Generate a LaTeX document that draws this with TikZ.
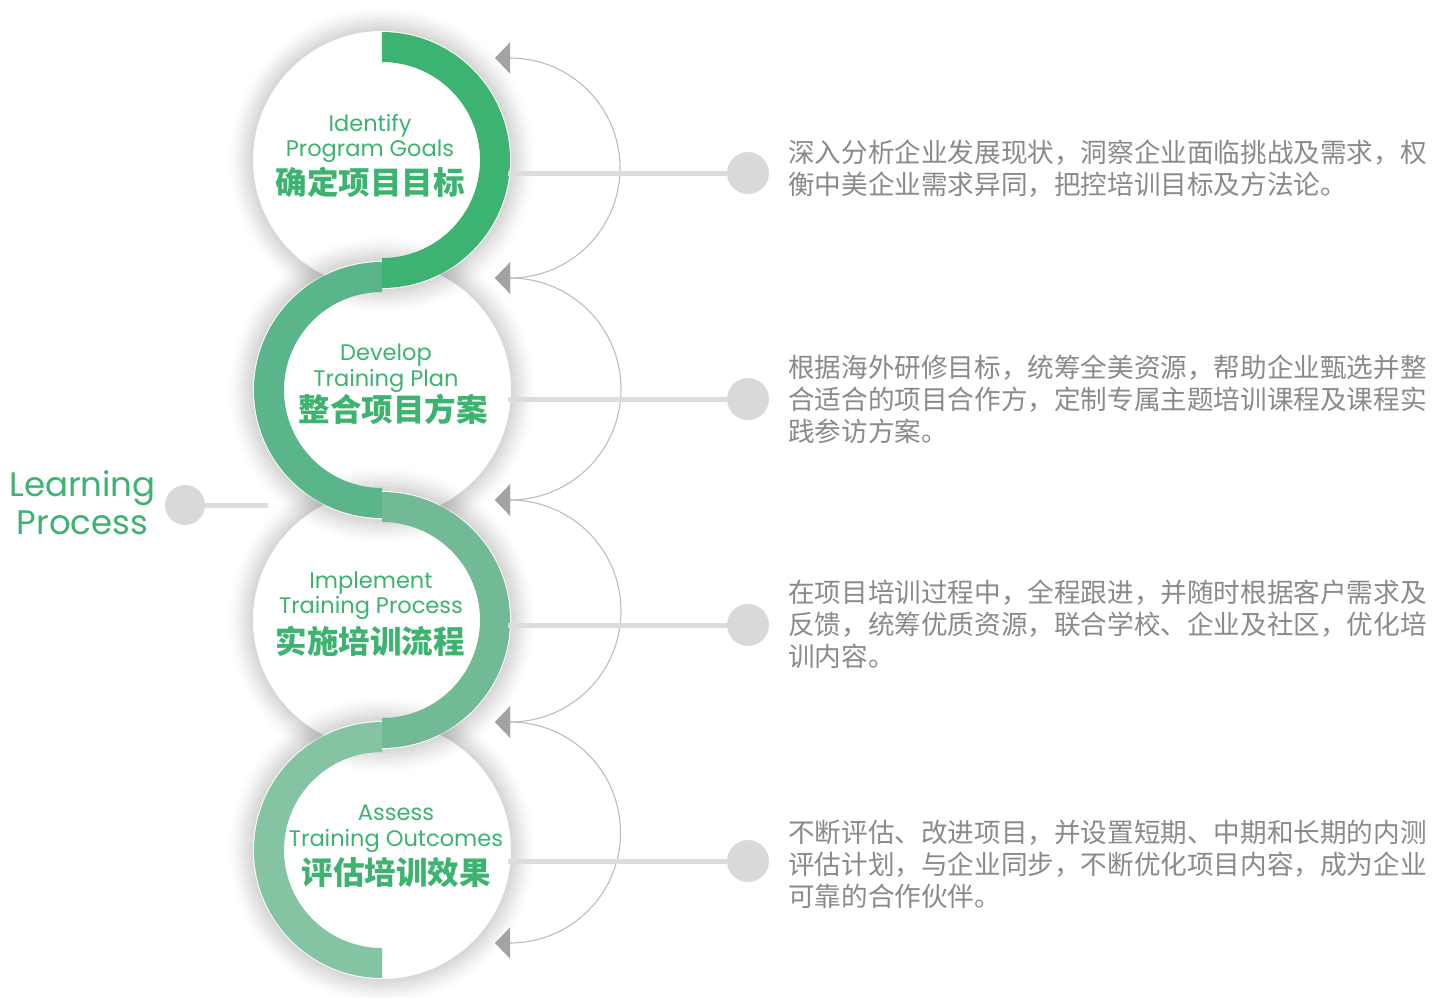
\documentclass[tikz,border=0pt]{standalone}
\usepackage{fontspec}
\setmainfont{Poppins}
\newfontfamily\cjk{Noto Sans CJK SC}
\usetikzlibrary{arrows.meta}
\definecolor{ga}{HTML}{3CB371}
\definecolor{gb}{HTML}{5BB58A}
\definecolor{gc}{HTML}{72BA95}
\definecolor{gd}{HTML}{84C4A2}
\definecolor{tg}{HTML}{3DB370}
\definecolor{bodyc}{HTML}{8A8A8A}
\definecolor{dotc}{HTML}{D9D9D9}
\definecolor{linec}{HTML}{DCDCDC}
\definecolor{arcc}{HTML}{BDBDBD}
\definecolor{arrc}{HTML}{A3A3A3}
\begin{document}
\begin{tikzpicture}[x=1pt,y=-1pt,
  disk/.style={circle,fill=white,minimum size=258pt,inner sep=0pt},
  dotn/.style={circle,fill=dotc,minimum size=42pt,inner sep=0pt},
  conn/.style={draw=linec,line width=5pt},
  loopline/.style={draw=arcc,line width=1.1pt,
    {Triangle[length=15pt,width=31pt,color=arrc]}-{Triangle[length=15pt,width=31pt,color=arrc]}},
  en/.style={anchor=base,text=tg,font=\fontsize{22.5}{25}\selectfont,inner sep=0pt},
  zh/.style={anchor=base,text=tg,font=\cjk\bfseries\fontsize{31.5}{36}\selectfont,inner sep=0pt},
  lp/.style={anchor=base,text=tg,font=\fontsize{34}{38}\selectfont,inner sep=0pt},
  body/.style={anchor=base west,align=left,text=bodyc,font=\cjk\fontsize{26.6}{32}\selectfont,inner sep=0pt},
]
\useasboundingbox (0,0) rectangle (1447,997);
\fill[white] (0,0) rectangle (1447,997);

% white disks
\node[disk] (c1) at (382,160) {};
\node[disk] (c2) at (382,390) {};
\node[disk] (c3) at (382,620) {};
\node[disk] (c4) at (382,850) {};

% soft halos
\foreach \c in {c1,c2,c3,c4}{
  \foreach \i in {0,...,11}{
    \pgfmathsetmacro\op{0.15*(1-\i/12)^1.3}
    \draw[black,opacity=\op,line width=2pt] (\c) circle[radius=130+2*\i];
  }
}

% green S-band
\fill[ga] (382,32) arc[start angle=-90,end angle=90,radius=128] -- (382,258) arc[start angle=90,end angle=-90,radius=98] -- cycle;
\fill[gb] (382,262) arc[start angle=-90,end angle=-270,radius=128] -- (382,488) arc[start angle=90,end angle=270,radius=98] -- cycle;
\fill[gc] (382,492) arc[start angle=-90,end angle=90,radius=128] -- (382,718) arc[start angle=90,end angle=-90,radius=98] -- cycle;
\fill[gd] (382,722) arc[start angle=-90,end angle=-270,radius=128] -- (382,948) arc[start angle=90,end angle=270,radius=98] -- cycle;

% loop arrows
\coordinate (p0) at (495,58);
\coordinate (p1) at (495,278);
\coordinate (p2) at (495,500);
\coordinate (p3) at (495,722);
\coordinate (p4) at (495,943);
\draw[loopline] (p0) -- ++(15,0) arc[start angle=-90,end angle=90,radius=110] -- (p1);
\draw[loopline] (p1) -- ++(15,0) arc[start angle=-90,end angle=90,radius=111] -- (p2);
\draw[loopline] (p2) -- ++(15,0) arc[start angle=-90,end angle=90,radius=111] -- (p3);
\draw[loopline] (p3) -- ++(15,0) arc[start angle=-90,end angle=90,radius=110.5] -- (p4);

% right connectors and dots
\node[dotn] (d1) at (748,173) {};
\node[dotn] (d2) at (748,399) {};
\node[dotn] (d3) at (748,625) {};
\node[dotn] (d4) at (748,861) {};
\coordinate (e1) at (508,173);
\coordinate (e2) at (508,399);
\coordinate (e3) at (508,625);
\coordinate (e4) at (508,861);
\draw[conn] (e1) -- (d1);
\draw[conn] (e2) -- (d2);
\draw[conn] (e3) -- (d3);
\draw[conn] (e4) -- (d4);

% left label
\node[dotn,minimum size=40pt] (d0) at (185,505) {};
\coordinate (e0) at (268,505);
\draw[conn] (d0) -- (e0);
\node[lp] (lp1) at (82.5,496) {Learning};
\node[lp] (lp2) at (82.5,534) {Process};

% circle titles
\node[en] (t1a) at (370,131.5) {Identify};
\node[en] (t1b) at (370,156.7) {Program Goals};
\node[zh] (t1c) at (370,194) {确定项目目标};

\node[en] (t2a) at (386,360) {Develop};
\node[en] (t2b) at (386,386) {Training Plan};
\node[zh] (t2c) at (393,421) {整合项目方案};

\node[en] (t3a) at (371,588) {Implement};
\node[en] (t3b) at (371,613) {Training Process};
\node[zh] (t3c) at (370,653) {实施培训流程};

\node[en] (t4a) at (396,820.7) {Assess};
\node[en] (t4b) at (396,846.7) {Training Outcomes};
\node[zh] (t4c) at (396,884) {评估培训效果};

% descriptions (anchored at the baseline of their last line)
\node[body] (b1) at (788,194) {深入分析企业发展现状，洞察企业面临挑战及需求，权\\衡中美企业需求异同，把控培训目标及方法论。};
\node[body] (b2) at (788,441.5) {根据海外研修目标，统筹全美资源，帮助企业甄选并整\\合适合的项目合作方，定制专属主题培训课程及课程实\\践参访方案。};
\node[body] (b3) at (788,666.5) {在项目培训过程中，全程跟进，并随时根据客户需求及\\反馈，统筹优质资源，联合学校、企业及社区，优化培\\训内容。};
\node[body] (b4) at (788,906.5) {不断评估、改进项目，并设置短期、中期和长期的内测\\评估计划，与企业同步，不断优化项目内容，成为企业\\可靠的合作伙伴。};
\end{tikzpicture}
\end{document}
